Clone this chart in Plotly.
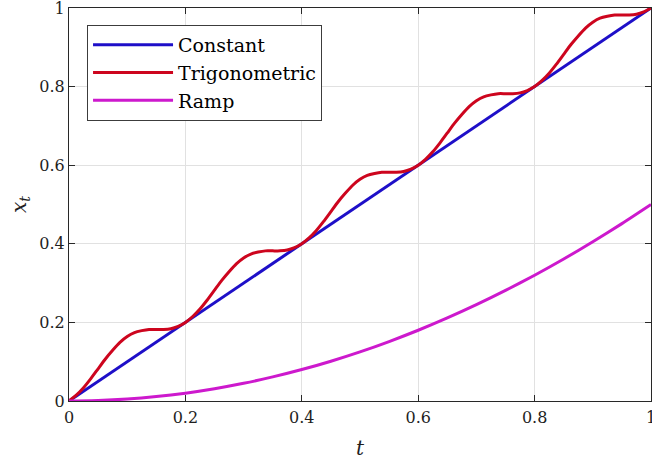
import plotly.graph_objects as go

# time grids
t_fine = [round(k * 0.0125, 4) for k in range(81)]
t_coarse = [0.0, 0.05, 0.1, 0.15, 0.2, 0.25, 0.3, 0.35, 0.4, 0.45, 0.5,
            0.55, 0.6, 0.65, 0.7, 0.75, 0.8, 0.85, 0.9, 0.95, 1.0]

constant_x = [0.0, 0.05, 0.1, 0.15, 0.2, 0.25, 0.3, 0.35, 0.4, 0.45, 0.5,
              0.55, 0.6, 0.65, 0.7, 0.75, 0.8, 0.85, 0.9, 0.95, 1.0]

trig_x = [
    0.000, 0.015, 0.034, 0.057, 0.082, 0.107, 0.129, 0.149, 0.164, 0.174, 0.179, 0.182, 0.182, 0.182, 0.184, 0.190,
    0.200, 0.215, 0.234, 0.257, 0.282, 0.307, 0.329, 0.349, 0.364, 0.374, 0.379, 0.382, 0.382, 0.382, 0.384, 0.390,
    0.400, 0.415, 0.434, 0.457, 0.482, 0.507, 0.529, 0.549, 0.564, 0.574, 0.579, 0.582, 0.582, 0.582, 0.584, 0.590,
    0.600, 0.615, 0.634, 0.657, 0.682, 0.707, 0.729, 0.749, 0.764, 0.774, 0.779, 0.782, 0.782, 0.782, 0.784, 0.790,
    0.800, 0.815, 0.834, 0.857, 0.882, 0.907, 0.929, 0.949, 0.964, 0.974, 0.979, 0.982, 0.982, 0.982, 0.984, 0.990,
    1.000,
]

ramp_x = [0.0, 0.0013, 0.005, 0.0113, 0.02, 0.0313, 0.045, 0.0613, 0.08, 0.1013, 0.125,
          0.1513, 0.18, 0.2113, 0.245, 0.2813, 0.32, 0.3613, 0.405, 0.4513, 0.5]

tick_vals = [0, 0.2, 0.4, 0.6, 0.8, 1]
tick_text = ["0", "0.2", "0.4", "0.6", "0.8", "1"]

FONT = "DejaVu Serif"
BLUE = "rgb(30,15,200)"
RED = "rgb(205,5,30)"
MAG = "rgb(205,25,205)"

fig = go.Figure()
fig.add_trace(go.Scatter(x=t_coarse, y=constant_x, mode="lines", name="Constant",
                         line=dict(color=BLUE, width=3)))
fig.add_trace(go.Scatter(x=t_fine, y=trig_x, mode="lines", name="Trigonometric",
                         line=dict(color=RED, width=3, shape="spline", smoothing=0.6)))
fig.add_trace(go.Scatter(x=t_coarse, y=ramp_x, mode="lines", name="Ramp",
                         line=dict(color=MAG, width=3, shape="spline", smoothing=0.6)))

axis_common = dict(
    range=[0, 1], tickvals=tick_vals, ticktext=tick_text,
    showgrid=True, gridcolor="rgb(225,225,225)", gridwidth=1,
    showline=True, linecolor="rgb(40,40,40)", linewidth=1, mirror="ticks",
    ticks="inside", ticklen=6, tickcolor="rgb(40,40,40)",
    zeroline=False, automargin=False, ticklabeloverflow="allow",
    tickfont=dict(family=FONT, size=16, color="rgb(30,30,30)"),
)

fig.update_layout(
    width=652, height=461,
    margin=dict(l=69, r=1, t=8, b=60),
    paper_bgcolor="white", plot_bgcolor="white",
    font=dict(family=FONT, color="rgb(30,30,30)"),
    hovermode=False,
    xaxis=dict(axis_common, ticklabelstandoff=2,
               title=dict(text="<i>t</i>", font=dict(family=FONT, size=20), standoff=14)),
    yaxis=dict(axis_common,
               title=dict(text="<i>x<sub>t</sub></i>", font=dict(family=FONT, size=20), standoff=7)),
    legend=dict(x=0.031, y=0.957, xanchor="left", yanchor="top",
                bgcolor="white", bordercolor="rgb(60,60,60)", borderwidth=1,
                font=dict(family=FONT, size=19, color="black"),
                itemwidth=80, tracegroupgap=0),
    showlegend=True,
)

fig.write_html("out.html", config={"displayModeBar": False, "staticPlot": True},
               post_script="document.body.style.margin='0';")
